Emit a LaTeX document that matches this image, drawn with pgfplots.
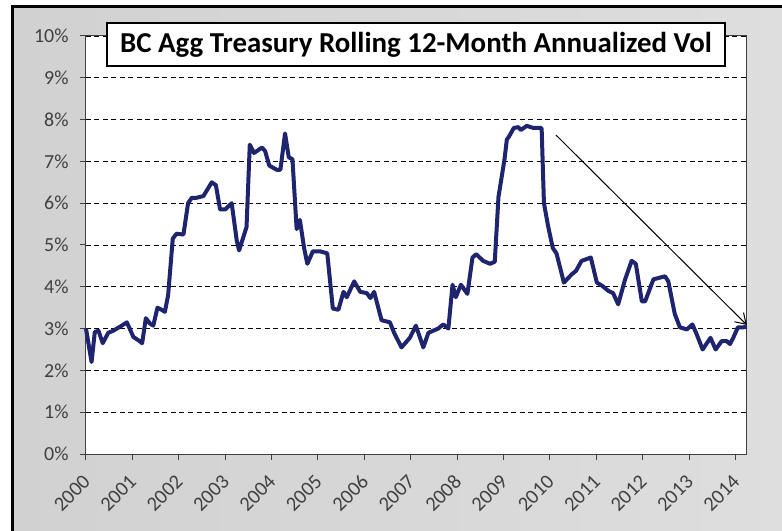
\documentclass[border=0pt]{standalone}
\usepackage{pgfplots}
\pgfplotsset{compat=1.18}
\usepackage{fontspec}
\setmainfont{Carlito}
\usetikzlibrary{arrows.meta}
\definecolor{navy}{RGB}{31,36,110}
\definecolor{lbl}{RGB}{64,64,64}
\begin{document}
\begin{tikzpicture}
\useasboundingbox (-86bp,-77bp) rectangle (696bp,454bp);
\shade[left color=gray!36, right color=gray!26] (-73bp,-77bp) rectangle (696bp,447bp);
\draw[black, line width=3bp] (-73bp,-80bp) -- (-73bp,447bp) -- (700bp,447bp);
\begin{axis}[
  at={(0,0)}, anchor=south west,
  scale only axis, width=660.7bp, height=418bp,
  xmin=2000, xmax=2014.24, ymin=0, ymax=10,
  clip=false,
  axis background/.style={fill=white},
  axis line style={draw=lbl, line width=1bp},
  ytick={0,1,2,3,4,5,6,7,8,9,10},
  yticklabels={0\%,1\%,2\%,3\%,4\%,5\%,6\%,7\%,8\%,9\%,10\%},
  xtick={2000,2001,2002,2003,2004,2005,2006,2007,2008,2009,2010,2011,2012,2013,2014},
  xticklabels={2000,2001,2002,2003,2004,2005,2006,2007,2008,2009,2010,2011,2012,2013,2014},
  ymajorgrids,
  grid style={black, line width=0.8bp, dash pattern=on 5bp off 3.5bp},
  tick align=outside, tick pos=left,
  major tick length=6bp,
  tick style={lbl, line width=1bp},
  x tick label style={xshift=3bp, yshift=-16bp, rotate=45, anchor=east, font=\fontsize{20.5}{20.5}\selectfont, text=lbl},
  y tick label style={xshift=-8bp, font=\fontsize{20}{20}\selectfont, text=lbl},
]
\addplot[navy, line width=4bp, line join=round] coordinates {
(2000.00,3.00) (2000.12,2.20) (2000.19,2.92) (2000.27,2.95) (2000.36,2.65)
(2000.48,2.90) (2000.59,2.95) (2000.77,3.07) (2000.88,3.15) (2000.93,3.03)
(2001.02,2.80) (2001.13,2.72) (2001.21,2.65) (2001.29,3.25) (2001.38,3.12)
(2001.45,3.07) (2001.54,3.50) (2001.63,3.45) (2001.70,3.40) (2001.77,3.80)
(2001.87,5.15) (2001.95,5.27) (2002.10,5.25) (2002.20,6.00) (2002.28,6.13)
(2002.38,6.13) (2002.53,6.17) (2002.71,6.50) (2002.80,6.43) (2002.89,5.85)
(2003.00,5.85) (2003.14,6.00) (2003.25,5.10) (2003.30,4.87) (2003.46,5.43)
(2003.53,7.40) (2003.62,7.20) (2003.79,7.33) (2003.86,7.25) (2003.95,6.90)
(2004.11,6.80) (2004.19,6.80) (2004.29,7.67) (2004.37,7.10) (2004.45,7.05)
(2004.54,5.38) (2004.61,5.60) (2004.70,4.93) (2004.77,4.55) (2004.89,4.85)
(2005.04,4.85) (2005.20,4.80) (2005.32,3.48) (2005.44,3.45) (2005.55,3.88)
(2005.62,3.75) (2005.78,4.13) (2005.91,3.88) (2006.05,3.85) (2006.13,3.73)
(2006.21,3.88) (2006.37,3.20) (2006.55,3.15) (2006.64,2.90) (2006.80,2.55)
(2006.98,2.78) (2007.11,3.07) (2007.27,2.55) (2007.38,2.90) (2007.59,3.00)
(2007.70,3.10) (2007.81,3.00) (2007.90,4.05) (2007.97,3.75) (2008.08,4.05)
(2008.22,3.83) (2008.33,4.70) (2008.41,4.78) (2008.56,4.62) (2008.71,4.55)
(2008.81,4.60) (2008.89,6.15) (2009.02,7.05) (2009.07,7.52) (2009.12,7.60)
(2009.22,7.80) (2009.32,7.82) (2009.37,7.75) (2009.50,7.85) (2009.64,7.80)
(2009.82,7.80) (2009.87,6.00) (2009.96,5.45) (2010.06,4.93) (2010.14,4.80)
(2010.30,4.10) (2010.47,4.30) (2010.56,4.38) (2010.68,4.62) (2010.88,4.70)
(2011.01,4.10) (2011.13,4.02) (2011.26,3.90) (2011.36,3.85) (2011.47,3.58)
(2011.62,4.18) (2011.76,4.62) (2011.85,4.55) (2011.98,3.65) (2012.05,3.65)
(2012.23,4.18) (2012.48,4.25) (2012.55,4.13) (2012.69,3.35) (2012.80,3.03)
(2012.95,2.98) (2013.07,3.10) (2013.16,2.87) (2013.29,2.50) (2013.46,2.78)
(2013.57,2.50) (2013.70,2.70) (2013.81,2.70) (2013.88,2.63) (2013.95,2.78)
(2014.05,3.03) (2014.17,3.03) (2014.24,3.05)
};
\addplot[black, line width=1bp, -{Straight Barb[length=10bp,width=13bp]}] coordinates {(2010.13,7.63) (2014.24,3.09)};
\node[draw=black, line width=1.5bp, fill=white, minimum width=618bp, minimum height=43bp, inner sep=0pt,
  font=\fontsize{29}{29}\selectfont\bfseries] at (rel axis cs:0.4995,0.9797) {BC Agg Treasury Rolling 12-Month Annualized Vol};
\end{axis}
\end{tikzpicture}
\end{document}
